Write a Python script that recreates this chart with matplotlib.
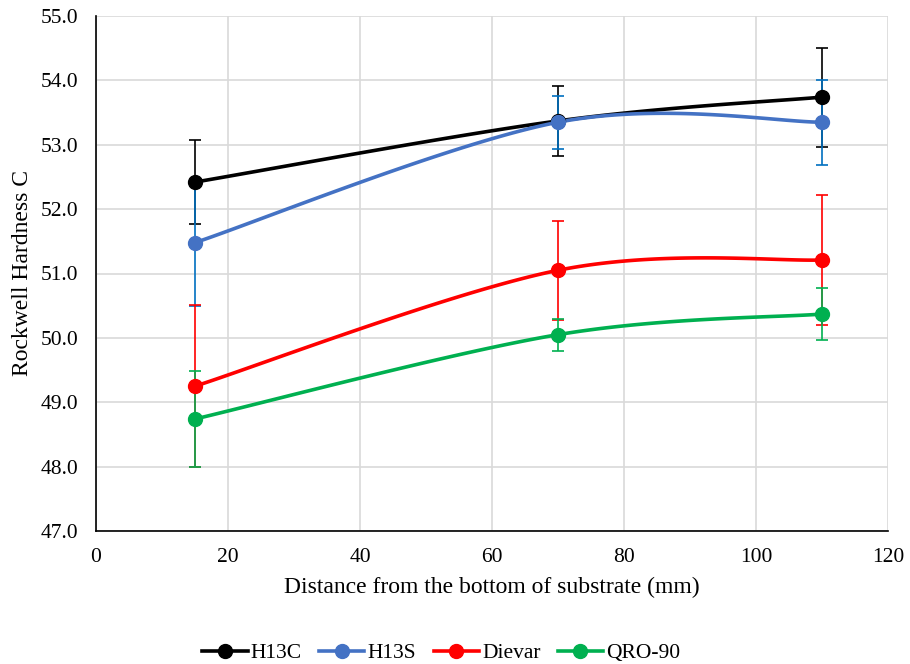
import numpy as np
import matplotlib
matplotlib.use("Agg")
import matplotlib.pyplot as plt
from matplotlib.lines import Line2D

plt.rcParams["font.family"] = ["Liberation Serif", "DejaVu Serif"]

# Data
distance = [15, 70, 110]
series_names = ["H13C", "H13S", "Dievar", "QRO-90"]
h13c = [52.42, 53.37, 53.74]
h13c_err = [0.65, 0.55, 0.77]
h13s = [51.48, 53.35, 53.35]
h13s_err = [0.98, 0.41, 0.66]
dievar = [49.25, 51.05, 51.21]
dievar_err = [1.26, 0.77, 1.01]
qro90 = [48.74, 50.05, 50.37]
qro90_err = [0.75, 0.25, 0.40]

line_colors = ["#000000", "#4472C4", "#FF0000", "#00B050"]
err_colors = ["#000000", "#0070C0", "#FF0000", "#00B050"]


def excel_smooth(x, y, n=60):
    """Catmull-Rom style bezier smoothing similar to Excel's smoothed lines."""
    x = np.asarray(x, float)
    y = np.asarray(y, float)
    px = np.concatenate([[x[0]], x, [x[-1]]])
    py = np.concatenate([[y[0]], y, [y[-1]]])
    xs, ys = [], []
    t = np.linspace(0, 1, n)
    for i in range(1, len(x)):
        p0 = np.array([px[i], py[i]])
        p3 = np.array([px[i + 1], py[i + 1]])
        c1 = p0 + (np.array([px[i + 1], py[i + 1]]) - np.array([px[i - 1], py[i - 1]])) / 6
        c2 = p3 - (np.array([px[i + 2], py[i + 2]]) - np.array([px[i], py[i]])) / 6
        b = ((1 - t) ** 3)[:, None] * p0 + (3 * (1 - t) ** 2 * t)[:, None] * c1 \
            + (3 * (1 - t) * t ** 2)[:, None] * c2 + (t ** 3)[:, None] * p3
        xs.append(b[:, 0])
        ys.append(b[:, 1])
    return np.concatenate(xs), np.concatenate(ys)


fig = plt.figure(figsize=(9.10, 6.64), dpi=100)
ax = fig.add_axes([96 / 910, 1 - 531 / 664, (888 - 96) / 910, (531 - 16) / 664])

values = [h13c, h13s, dievar, qro90]
errors = [h13c_err, h13s_err, dievar_err, qro90_err]

for vals, errs, ec in zip(values, errors, err_colors):
    ax.errorbar(distance, vals, yerr=errs, fmt="none", ecolor=ec,
                elinewidth=1.2, capsize=4, capthick=1.2, zorder=2)

handles = []
for name, vals, lc in zip(series_names, values, line_colors):
    sx, sy = excel_smooth(distance, vals)
    ax.plot(sx, sy, color=lc, lw=2.6, zorder=3, solid_capstyle="round")
    ax.plot(distance, vals, "o", color=lc, markersize=10, zorder=4)
    handles.append(Line2D([], [], color=lc, lw=2.6, marker="o", markersize=10))

ax.set_xlim(0, 120)
ax.set_ylim(47, 55)
ax.set_xticks(np.arange(0, 121, 20))
ax.set_yticks(np.arange(47, 55.1, 1))
ax.set_yticklabels([f"{v:.1f}" for v in np.arange(47, 55.1, 1)])
ax.grid(True, color="#D9D9D9", lw=1.2, zorder=0)
ax.set_axisbelow(True)
for side in ["top", "right"]:
    ax.spines[side].set_visible(False)
for side in ["left", "bottom"]:
    ax.spines[side].set_color("black")
    ax.spines[side].set_linewidth(1.2)
ax.tick_params(axis="y", length=0, labelsize=15.5, pad=13)
ax.tick_params(axis="x", length=0, labelsize=15.5, pad=12)

ax.set_xlabel("Distance from the bottom of substrate (mm)", fontsize=17, labelpad=7)
ax.set_ylabel("Rockwell Hardness C", fontsize=17, labelpad=5)

fig.legend(handles, series_names, loc="center", bbox_to_anchor=(0.485, 0.016),
           ncol=4, frameon=False, fontsize=15.5, handlelength=2.1,
           columnspacing=0.8, handletextpad=0.15)

fig.savefig("out.png", dpi=100)
